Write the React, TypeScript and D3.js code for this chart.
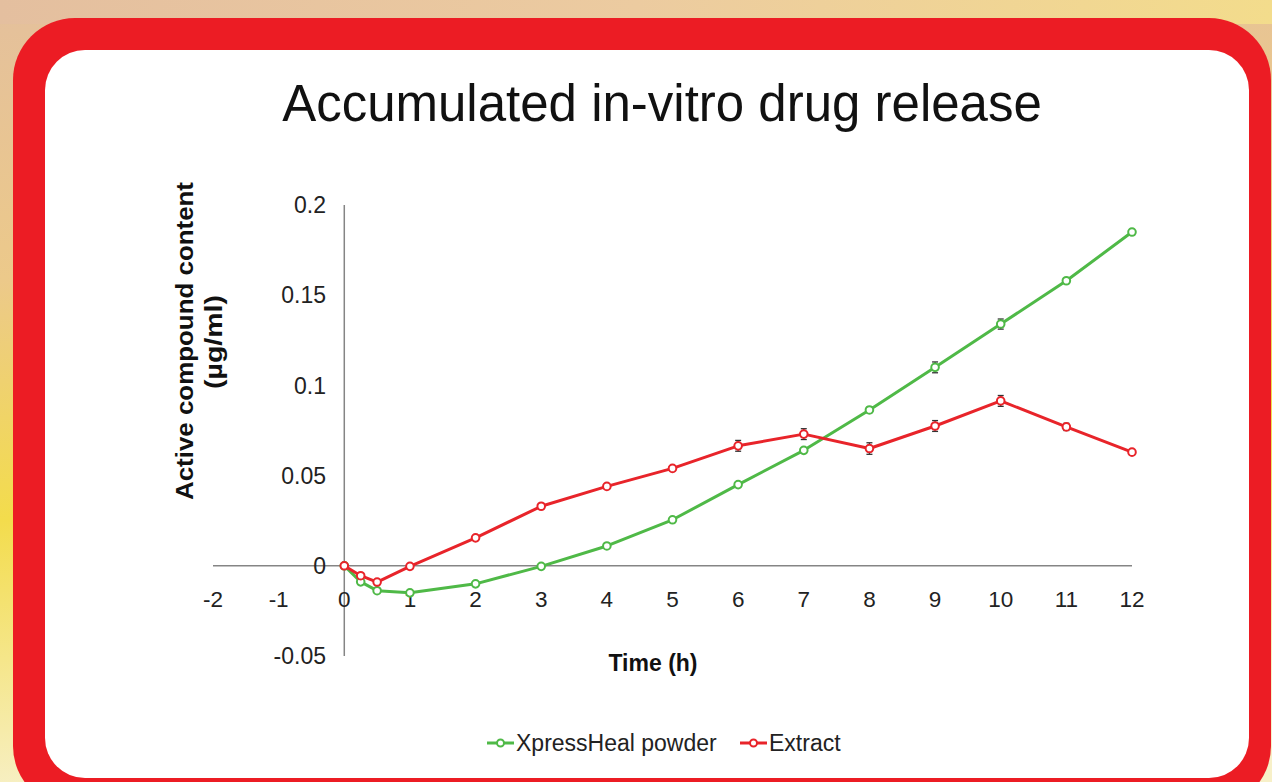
import React from "react";
import * as d3 from "d3";

const times = [0, 0.25, 0.5, 1, 2, 3, 4, 5, 6, 7, 8, 9, 10, 11, 12];
const xpressHeal = [0, -0.0089, -0.0138, -0.015, -0.01, -0.0003, 0.011, 0.0255, 0.045, 0.064, 0.0864, 0.11, 0.134, 0.158, 0.185];
const xpressErr = [0, 0.0005, 0.0008, 0.0008, 0.001, 0.0008, 0.001, 0.001, 0.001, 0.0015, 0.0015, 0.003, 0.0028, 0.0012, 0.0015];
const extract = [0, -0.0055, -0.009, -0.0003, 0.0155, 0.033, 0.044, 0.054, 0.0665, 0.073, 0.065, 0.0775, 0.0914, 0.077, 0.063];
const extractErr = [0, 0.0008, 0.0008, 0.0005, 0.0008, 0.001, 0.001, 0.0012, 0.003, 0.003, 0.0032, 0.003, 0.003, 0.002, 0.001];
const xTicks = [-2, -1, 0, 1, 2, 3, 4, 5, 6, 7, 8, 9, 10, 11, 12];
const yTicks = [-0.05, 0, 0.05, 0.1, 0.15, 0.2];
const yTickLabels = ["-0.05", "0", "0.05", "0.1", "0.15", "0.2"];
const seriesNames = ["XpressHeal powder", "Extract"];

const GREEN = "#4fb947";
const RED = "#e8242a";
const FONT = "'Liberation Sans', Arial, Helvetica, sans-serif";

export default function App() {
  const x = d3.scaleLinear().domain([-2, 12]).range([213, 1132]);
  const y = d3.scaleLinear().domain([-0.05, 0.2]).range([656, 205]);
  const line = d3
    .line<[number, number]>()
    .x((d) => x(d[0]))
    .y((d) => y(d[1]));

  const series = [
    { name: seriesNames[0], vals: xpressHeal, err: xpressErr, color: GREEN },
    { name: seriesNames[1], vals: extract, err: extractErr, color: RED },
  ];

  return (
    <svg
      width={1272}
      height={782}
      style={{ position: "absolute", left: 0, top: 0 }}
      fontFamily={FONT}
    >
      <defs>
        <linearGradient id="bg" x1="0" y1="0" x2="0.15" y2="1">
          <stop offset="0" stopColor="#e4c09c" />
          <stop offset="0.35" stopColor="#ecc98a" />
          <stop offset="0.65" stopColor="#f3dc4c" />
          <stop offset="1" stopColor="#f7f0c8" />
        </linearGradient>
        <linearGradient id="bgTop" x1="0" y1="0" x2="1" y2="0">
          <stop offset="0" stopColor="#e4bf9f" />
          <stop offset="0.5" stopColor="#eccba0" />
          <stop offset="1" stopColor="#f3dc8c" />
        </linearGradient>
      </defs>
      <rect x={0} y={0} width={1272} height={782} fill="url(#bg)" />
      <rect x={0} y={0} width={1272} height={24} fill="url(#bgTop)" />
      <rect x={13} y={18} width={1258} height={790} rx={62} ry={62} fill="#ec1c24" />
      <rect x={45} y={50} width={1204} height={728} rx={40} ry={40} fill="#ffffff" />

      <text x={662} y={121} textAnchor="middle" fontSize={51} fill="#111">
        Accumulated in-vitro drug release
      </text>

      {/* axes */}
      <line x1={x(-2)} x2={x(12)} y1={y(0)} y2={y(0)} stroke="#858585" strokeWidth={1.5} />
      <line x1={x(0)} x2={x(0)} y1={y(0.2)} y2={y(-0.05)} stroke="#858585" strokeWidth={1.5} />

      {yTicks.map((t, i) => (
        <text key={"y" + t} x={326} y={y(t)} dy="0.36em" textAnchor="end" fontSize={23} fill="#222">
          {yTickLabels[i]}
        </text>
      ))}
      {xTicks.map((t) => (
        <text key={"x" + t} x={x(t)} y={607} textAnchor="middle" fontSize={22.5} fill="#222">
          {String(t)}
        </text>
      ))}

      <text
        transform="translate(193,341) rotate(-90)"
        textAnchor="middle"
        fontSize={23}
        fontWeight="bold"
        fill="#111"
        textLength={318}
        lengthAdjust="spacingAndGlyphs"
      >
        Active compound content
      </text>
      <text
        transform="translate(222,342) rotate(-90)"
        textAnchor="middle"
        fontSize={23}
        fontWeight="bold"
        fill="#111"
        textLength={94}
        lengthAdjust="spacingAndGlyphs"
      >
        (µg/ml)
      </text>
      <text x={653} y={671} textAnchor="middle" fontSize={23} fontWeight="bold" fill="#111">
        Time (h)
      </text>

      {series.map((s) => (
        <g key={s.name}>
          <path
            d={line(times.map((t, i) => [t, s.vals[i]] as [number, number])) || ""}
            fill="none"
            stroke={s.color}
            strokeWidth={3}
            strokeLinejoin="round"
          />
          {times.map((t, i) =>
            s.err[i] > 0.0012 ? (
              <g key={"e" + t} stroke="#333" strokeWidth={1.3}>
                <line x1={x(t)} x2={x(t)} y1={y(s.vals[i] - s.err[i])} y2={y(s.vals[i] + s.err[i])} />
                <line x1={x(t) - 3} x2={x(t) + 3} y1={y(s.vals[i] - s.err[i])} y2={y(s.vals[i] - s.err[i])} />
                <line x1={x(t) - 3} x2={x(t) + 3} y1={y(s.vals[i] + s.err[i])} y2={y(s.vals[i] + s.err[i])} />
              </g>
            ) : null
          )}
          {times.map((t, i) => (
            <circle key={"c" + t} cx={x(t)} cy={y(s.vals[i])} r={3.8} fill="#fff" stroke={s.color} strokeWidth={2} />
          ))}
        </g>
      ))}

      {/* legend */}
      {series.map((s, i) => {
        const lx = i === 0 ? 487 : 740;
        return (
          <g key={"lg" + s.name}>
            <line x1={lx} x2={lx + 27} y1={743} y2={743} stroke={s.color} strokeWidth={3} />
            <circle cx={lx + 13.5} cy={743} r={3.5} fill="#fff" stroke={s.color} strokeWidth={2} />
            <text x={lx + 29} y={751} fontSize={23} fill="#222">
              {s.name}
            </text>
          </g>
        );
      })}
    </svg>
  );
}
